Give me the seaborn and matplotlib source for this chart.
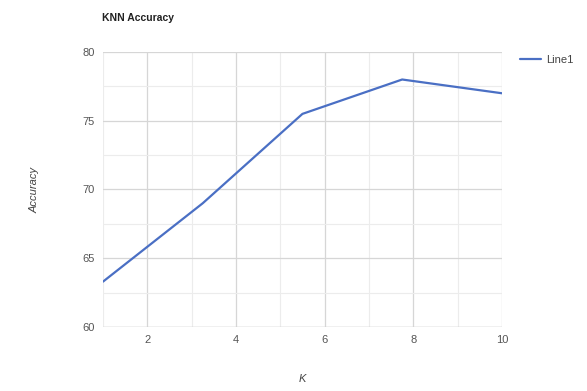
import matplotlib
matplotlib.use("Agg")
import matplotlib.pyplot as plt
import seaborn as sns
import pandas as pd
from matplotlib.ticker import MultipleLocator

k_values = [1, 3.25, 5.5, 7.75, 10]
accuracy = [63.3, 69.0, 75.5, 78.0, 77.0]
series_name = "Line1"

df = pd.DataFrame({"K": k_values, "Accuracy": accuracy, "series": series_name})

sns.set_theme(style="white")
plt.rcParams['font.family'] = ['Arial', 'Liberation Sans', 'DejaVu Sans']

fig = plt.figure(figsize=(5.87, 3.91), dpi=100)
ax = fig.add_axes([0.1755, 0.1637, 0.855 - 0.1755, 0.867 - 0.1637])

sns.lineplot(data=df, x="K", y="Accuracy", hue="series", palette=["#4a6fc4"],
             linewidth=1.6, ax=ax, legend=True)

ax.set_xlim(1, 10)
ax.set_ylim(60, 80)
ax.xaxis.set_major_locator(MultipleLocator(2))
ax.xaxis.set_minor_locator(MultipleLocator(1))
ax.yaxis.set_major_locator(MultipleLocator(5))
ax.yaxis.set_minor_locator(MultipleLocator(2.5))
ax.grid(which="major", color="#d6d6d6", linewidth=0.9)
ax.grid(which="minor", color="#ececec", linewidth=0.8)
ax.set_axisbelow(True)
for s in ax.spines.values():
    s.set_visible(False)
ax.axhline(60, color="#cfcfcf", linewidth=1.0, zorder=1)
ax.tick_params(axis="both", which="both", length=0, labelsize=8, labelcolor="#555555", pad=6)
ax.set_xticks([2, 4, 6, 8, 10])

ax.set_xlabel("K", fontsize=8, style="italic", color="#444444", labelpad=21)
ax.set_ylabel("Accuracy", fontsize=8, style="italic", color="#444444", labelpad=31)
fig.text(0.174, 0.955, "KNN Accuracy", fontsize=7.5, fontweight="bold", color="#222222",
         ha="left", va="center")

leg = ax.legend(loc="upper left", bbox_to_anchor=(1.018, 1.03), frameon=False,
                fontsize=8, handlelength=1.9, handletextpad=0.4, borderaxespad=0.6)
for t in leg.get_texts():
    t.set_color("#444444")

fig.savefig("out.png", dpi=100)
